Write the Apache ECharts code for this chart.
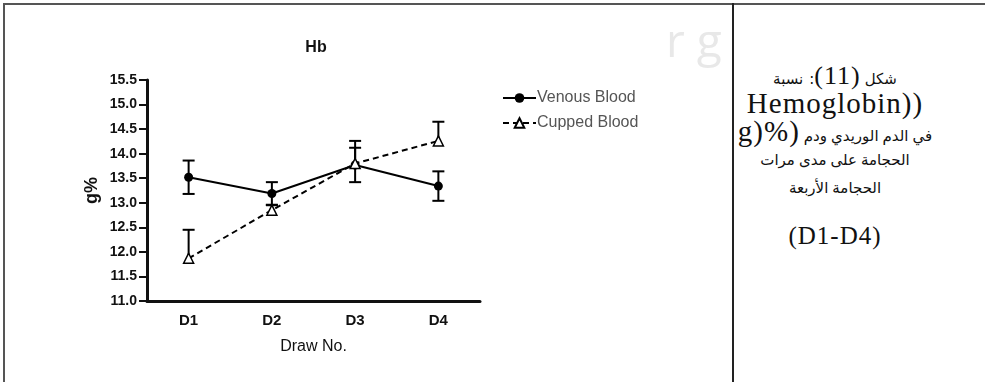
<!DOCTYPE html>
<html>
<head>
<meta charset="utf-8">
<script src="https://cdn.jsdelivr.net/npm/echarts@6/dist/echarts.min.js"></script>
<style>
  body { margin: 0; background: #fff; }
  #page { position: relative; width: 985px; height: 382px; overflow: hidden; background: #fff; }
  .border-top { position: absolute; left: 3px; top: 3px; width: 982px; height: 2px; background: #555; }
  .border-left { position: absolute; left: 3px; top: 3px; width: 2px; height: 379px; background: #555; }
  .divider { position: absolute; left: 732px; top: 3px; width: 2px; height: 379px; background: #222; }
  #hb-chart { position: absolute; left: 0; top: 0; width: 732px; height: 382px; }
  #caption { position: absolute; left: 735px; top: 0; width: 200px; height: 382px; }
  /* words listed in reading order, laid out right to left */
  .cap-line { position: absolute; left: 0; width: 100%; display: flex; flex-direction: row-reverse; justify-content: center; align-items: baseline; gap: 4px; color: #111; }
  .ar { font-family: "DejaVu Sans", sans-serif; font-size: 15px; display: inline-block; }
  .lat { font-family: "Liberation Serif", "DejaVu Serif", serif; font-size: 29px; display: inline-block; letter-spacing: 1px; direction: ltr; unicode-bidi: isolate; }
</style>
</head>
<body>
<div id="page">
  <div class="border-top"></div>
  <div class="border-left"></div>
  <div class="divider"></div>
  <div id="hb-chart"></div>
  <div id="caption">
    <div class="cap-line" style="top:61px"><span class="ar">شكل</span><span class="lat" style="font-size:26px">(11)</span><span class="ar" style="margin-right:-4px;margin-left:2px">:</span><span class="ar">نسبة</span></div>
    <div class="cap-line" style="top:87px"><span class="lat">Hemoglobin))</span></div>
    <div class="cap-line" style="top:115px"><span class="ar">في</span><span class="ar">الدم</span><span class="ar">الوريدي</span><span class="ar">ودم</span><span class="lat">g)%)</span></div>
    <div class="cap-line" style="top:151px"><span class="ar">الحجامة</span><span class="ar">على</span><span class="ar">مدى</span><span class="ar">مرات</span></div>
    <div class="cap-line" style="top:179px"><span class="ar">الحجامة</span><span class="ar">الأربعة</span></div>
    <div class="cap-line" style="top:222px"><span class="lat" style="font-size:25px">(D1-D4)</span></div>
  </div>
</div>
<script>
var categories = ['D1', 'D2', 'D3', 'D4'];
var yTicks = ['11.0', '11.5', '12.0', '12.5', '13.0', '13.5', '14.0', '14.5', '15.0', '15.5'];
// mean and error (Venous shown both ways, Cupped only upwards)
var venousMean = [13.52, 13.19, 13.77, 13.34];
var venousErr = [0.34, 0.23, 0.35, 0.30];
var cuppedMean = [11.87, 12.85, 13.80, 14.26];
var cuppedErr = [0.58, 0.10, 0.46, 0.39];

function errData(mean, err, both) {
  var out = [];
  for (var i = 0; i < mean.length; i++) {
    out.push([i, both ? mean[i] - err[i] : mean[i], mean[i] + err[i], both ? 1 : 0]);
  }
  return out;
}

function renderErr(params, api) {
  var x = api.value(0);
  var lo = api.coord([x, api.value(1)]);
  var hi = api.coord([x, api.value(2)]);
  var both = api.value(3);
  var w = 6;
  var style = { stroke: '#000', lineWidth: 2 };
  var kids = [
    { type: 'line', shape: { x1: hi[0], y1: hi[1], x2: lo[0], y2: lo[1] }, style: style },
    { type: 'line', shape: { x1: hi[0] - w, y1: hi[1], x2: hi[0] + w, y2: hi[1] }, style: style }
  ];
  if (both) {
    kids.push({ type: 'line', shape: { x1: lo[0] - w, y1: lo[1], x2: lo[0] + w, y2: lo[1] }, style: style });
  }
  return { type: 'group', children: kids };
}

var myChart = echarts.init(document.getElementById('hb-chart'));
var option = {
  animation: false,
  title: {
    text: 'Hb',
    left: 311,
    top: 35,
    textAlign: 'center',
    textStyle: { fontFamily: 'Liberation Sans', fontSize: 16, fontWeight: 'bold', color: '#111' }
  },
  graphic: [{
    type: 'text',
    left: 666,
    top: 21,
    style: { text: 'r g', fontFamily: 'Open Sans', fontSize: 46, fill: '#e8e8e8' }
  }],
  legend: {
    orient: 'vertical',
    left: 497,
    top: 85,
    itemWidth: 33,
    itemHeight: 12,
    itemGap: 9,
    data: ['Venous Blood', 'Cupped Blood'],
    textStyle: { fontFamily: 'Liberation Sans', fontSize: 16, color: '#555', padding: [0, 0, 0, -4] }
  },
  grid: { left: 147, top: 80, width: 333, height: 221 },
  xAxis: {
    type: 'category',
    data: categories,
    name: 'Draw No.',
    nameLocation: 'middle',
    nameGap: 38,
    nameTextStyle: { fontFamily: 'Liberation Sans', fontSize: 16, color: '#111' },
    axisLine: { lineStyle: { color: '#111', width: 3 } },
    axisTick: { alignWithLabel: true, length: 8, lineStyle: { width: 2, color: '#111' } },
    axisLabel: { fontFamily: 'Liberation Sans', fontSize: 15, fontWeight: 'bold', color: '#111', margin: 12 },
    splitLine: { show: false }
  },
  yAxis: {
    type: 'value',
    min: 11,
    max: 15.5,
    interval: 0.5,
    name: 'g%',
    nameLocation: 'middle',
    nameGap: 46,
    nameTextStyle: { fontFamily: 'Liberation Sans', fontSize: 18, fontWeight: 'bold', color: '#111' },
    axisLine: { show: true, lineStyle: { color: '#111', width: 3 } },
    axisTick: { show: true, length: 8, lineStyle: { width: 2, color: '#111' } },
    axisLabel: {
      fontFamily: 'Liberation Sans', fontSize: 14, fontWeight: 'bold', color: '#111', margin: 10,
      formatter: function (v) { return yTicks[Math.round((v - 11) / 0.5)]; }
    },
    splitLine: { show: false }
  },
  series: [
    {
      name: 'Venous Blood',
      type: 'line',
      data: venousMean,
      symbol: 'circle',
      symbolSize: 9,
      itemStyle: { color: '#000' },
      lineStyle: { color: '#000', width: 2 },
      z: 3
    },
    {
      name: 'Cupped Blood',
      type: 'line',
      data: cuppedMean,
      symbol: 'triangle',
      symbolSize: 10,
      itemStyle: { color: '#fff', borderColor: '#000', borderWidth: 1.5 },
      lineStyle: { color: '#000', width: 2, type: [6, 4] },
      z: 3
    },
    {
      type: 'custom',
      renderItem: renderErr,
      data: errData(venousMean, venousErr, true),
      z: 2
    },
    {
      type: 'custom',
      renderItem: renderErr,
      data: errData(cuppedMean, cuppedErr, false),
      z: 2
    }
  ]
};
myChart.setOption(option);
</script>
</body>
</html>
